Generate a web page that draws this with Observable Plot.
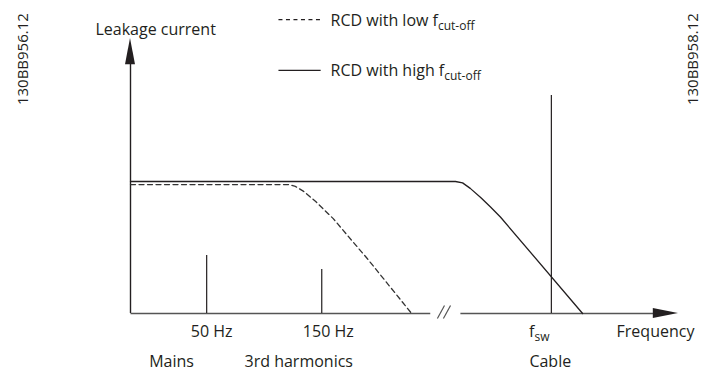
<!DOCTYPE html>
<html>
<head>
<meta charset="utf-8">
<script src="https://cdn.jsdelivr.net/npm/d3@7"></script>
<script src="https://cdn.jsdelivr.net/npm/@observablehq/plot@0.6"></script>
<style>
  html, body { margin: 0; padding: 0; background: #fff; }
  svg { display: block; }
</style>
</head>
<body>
<div id="chart"></div>
<script>
// Chart units: frequency position 0..100 (origin to arrow tip), leakage 0..100 (axis to arrow tip)
const highCutX = [0, 59.3, 60.6, 62.0, 63.9, 65.7, 67.5, 82.5];
const highCutY = [48.0, 48.0, 47.5, 45.5, 42.2, 38.7, 35.1, 0];
const lowCutX = [0, 28.8, 30.1, 31.6, 33.8, 37.0, 40.7, 43.2, 51.3];
const lowCutY = [46.9, 46.9, 46.2, 44.4, 40.7, 34.5, 25.8, 20.0, 0];

const markerNames = ["50 Hz", "150 Hz", "f_sw"];
const markerX = [13.9, 34.9, 76.8];
const markerTop = [21.1, 16.0, 79.3];
const markerLabelX = [14.8, 36.1, 74.6];
const markerLabelAnchor = ["middle", "middle", "start"];

const groupNames = ["Mains", "3rd harmonics", "Cable"];
const groupX = [7.5, 30.7, 76.6];

const legendNames = ["RCD with low f_cut-off", "RCD with high f_cut-off"];
const legendSampleY = [106.9, 88.4];
const legendTextY = [104.7, 86.5];
const legendSampleX = [27.0, 34.7];
const legendTextX = 36.5;

const axisTitles = ["Leakage current", "Frequency"];
const codes = ["130BB956.12", "130BB958.12"];
const codeX = [-19.6, 102.6];
const codeY = 92.5;

// axis geometry (chart units)
const xAxisSegments = [[0, 54.7], [60.2, 95.4]];
const breakSlashes = [[56.0, 57.3], [57.1, 58.4]];
const breakLow = -1.82, breakHigh = 2.91;
const yAxisTop = 92;
const yHead = {baseY: 90.5, halfW: 0.91, tipY: 100};
const xHead = {baseX: 95.4, halfH: 1.82, tipX: 100};

const ink = "#231f20";
const high = highCutX.map((x, i) => ({x, y: highCutY[i]}));
const low = lowCutX.map((x, i) => ({x, y: lowCutY[i]}));
const markers = markerNames.map((name, i) => ({name, x: markerX[i], top: markerTop[i], lx: markerLabelX[i], anchor: markerLabelAnchor[i]}));
const groups = groupNames.map((name, i) => ({name, x: groupX[i]}));
const legend = legendNames.map((name, i) => ({name, sy: legendSampleY[i], ty: legendTextY[i]}));

const chart = Plot.plot({
  width: 702,
  height: 372,
  marginLeft: 130,
  marginRight: 24,
  marginTop: 38,
  marginBottom: 59,
  x: {domain: [0, 100], axis: null},
  y: {domain: [0, 100], axis: null},
  style: {fontFamily: "'Open Sans', sans-serif", color: ink, background: "#fff"},
  marks: [
    // y axis line + arrowhead
    Plot.ruleX([0], {y1: 0, y2: yAxisTop, stroke: ink, strokeWidth: 1.4}),
    Plot.areaX([{y: yHead.baseY, x1: -yHead.halfW, x2: yHead.halfW}, {y: yHead.tipY, x1: 0, x2: 0}],
      {y: "y", x1: "x1", x2: "x2", fill: ink}),
    // x axis segments + arrowhead
    Plot.link(xAxisSegments, {x1: d => d[0], x2: d => d[1], y1: 0, y2: 0, stroke: "#555", strokeWidth: 1.4}),
    Plot.areaY([{x: xHead.baseX, y1: -xHead.halfH, y2: xHead.halfH}, {x: xHead.tipX, y1: 0, y2: 0}],
      {x: "x", y1: "y1", y2: "y2", fill: ink}),
    Plot.link(breakSlashes, {x1: d => d[0], x2: d => d[1], y1: breakLow, y2: breakHigh, stroke: "#555", strokeWidth: 1.2}),
    // frequency markers
    Plot.ruleX(markers, {x: "x", y1: 0, y2: "top", stroke: ink, strokeWidth: 1.2}),
    // curves
    Plot.line(low, {x: "x", y: "y", stroke: "#333", strokeWidth: 1.3, strokeDasharray: "5,3.5", curve: "linear"}),
    Plot.line(high, {x: "x", y: "y", stroke: ink, strokeWidth: 1.3, curve: "linear"}),
    // legend samples
    Plot.link([legend[0]], {x1: legendSampleX[0], x2: legendSampleX[1], y1: "sy", y2: "sy", stroke: ink, strokeWidth: 1.2, strokeDasharray: "4,3.5"}),
    Plot.link([legend[1]], {x1: legendSampleX[0], x2: legendSampleX[1], y1: "sy", y2: "sy", stroke: ink, strokeWidth: 1.2}),
    Plot.text(legend, {x: legendTextX, y: "ty", text: "name", textAnchor: "start", lineAnchor: "bottom", fontSize: 16, fill: ink}),
    // labels
    Plot.text(markers, {x: "lx", y: -8.4, text: "name", textAnchor: d => d.anchor, lineAnchor: "bottom", fontSize: 16, fill: ink}),
    Plot.text(groups, {x: "x", y: -19.3, text: "name", textAnchor: "middle", lineAnchor: "bottom", fontSize: 16, fill: ink}),
    Plot.text([axisTitles[0]], {x: -6.4, y: 101.1, text: d => d, textAnchor: "start", lineAnchor: "bottom", fontSize: 16, fill: ink}),
    Plot.text([axisTitles[1]], {x: 88.7, y: -8.4, text: d => d, textAnchor: "start", lineAnchor: "bottom", fontSize: 16, fill: ink}),
    Plot.text(codes, {x: (d, i) => codeX[i], y: codeY, text: d => d, rotate: -90, textAnchor: "middle", lineAnchor: "middle", fontSize: 15, fill: ink})
  ]
});

// subscripts
d3.select(chart).selectAll("text").each(function () {
  const t = this.textContent;
  if (t.includes("_")) {
    const [a, b] = t.split("_");
    this.textContent = a;
    d3.select(this).append("tspan").attr("font-size", 12).attr("dy", 4).text(b);
  }
});

document.getElementById("chart").appendChild(chart);
</script>
</body>
</html>
